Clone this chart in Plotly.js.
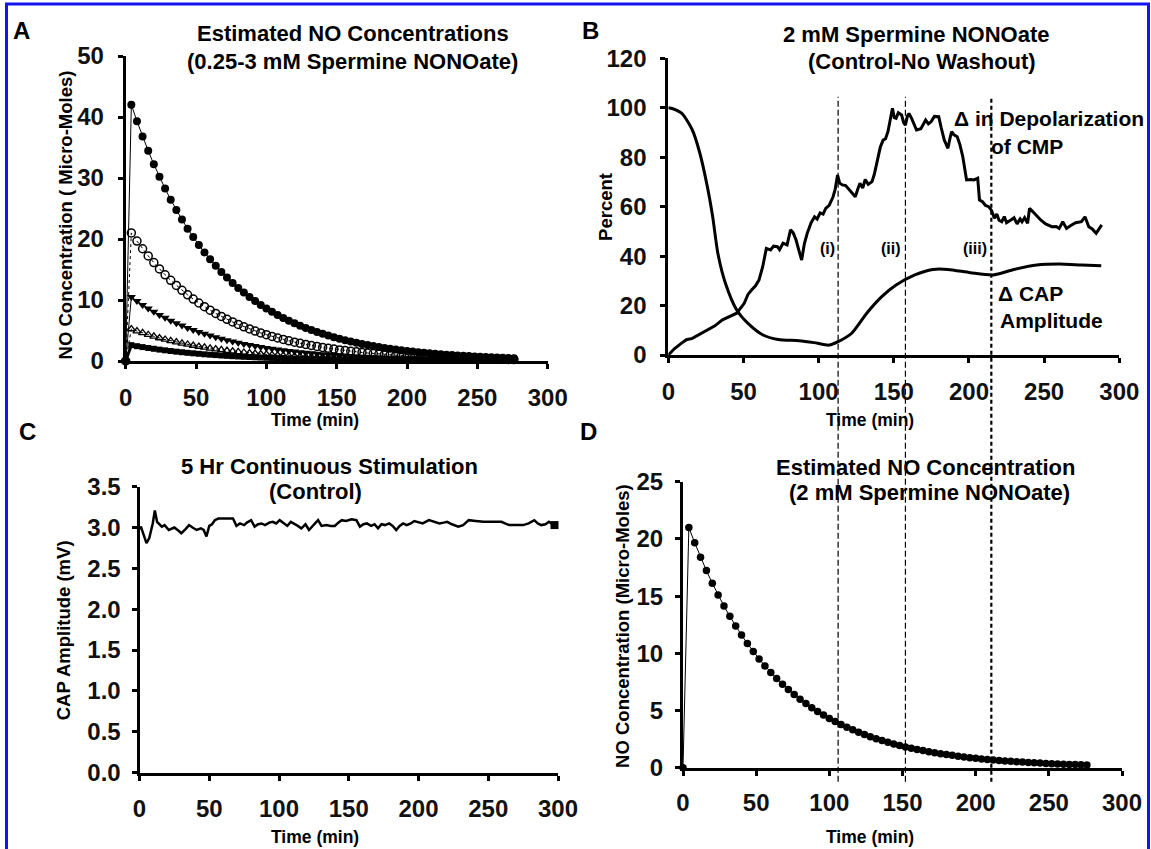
<!DOCTYPE html>
<html>
<head>
<meta charset="utf-8">
<script src="https://cdn.plot.ly/plotly-3.0.1.min.js"></script>
<style>html,body{margin:0;padding:0;background:#fff;}#chart{width:1151px;height:849px;}</style>
</head>
<body>
<div id="chart"></div>
<script>
// ---------- DATA ----------
// Panel A / D : estimated NO concentration (micro-moles) vs time (min)
const decayTime = [0,4,8,12,16,20,24,28,32,36,40,44,48,52,56,60,64,68,72,76,80,84,88,92,96,100,104,108,112,116,120,124,128,132,136,140,144,148,152,156,160,164,168,172,176,180,184,188,192,196,200,204,208,212,216,220,224,228,232,236,240,244,248,252,256,260,264,268,272,276];
const noHigh = [0,42.00,39.32,36.80,34.45,32.25,30.19,28.26,26.45,24.76,23.18,21.70,20.31,19.02,17.80,16.66,15.60,14.60,13.67,12.80,11.98,11.21,10.50,9.83,9.20,8.61,8.06,7.54,7.06,6.61,6.19,5.79,5.42,5.08,4.75,4.45,4.16,3.90,3.65,3.42,3.20,2.99,2.80,2.62,2.46,2.30,2.15,2.01,1.89,1.76,1.65,1.55,1.45,1.36,1.27,1.19,1.11,1.04,0.97,0.91,0.85,0.80,0.75,0.70,0.66,0.61,0.57,0.54,0.50,0.47];
const no2mM = [0,21.00,19.66,18.40,17.23,16.13,15.10,14.13,13.23,12.38,11.59,10.85,10.16,9.51,8.90,8.33,7.80,7.30,6.83,6.40,5.99,5.61,5.25,4.91,4.60,4.31,4.03,3.77,3.53,3.31,3.09,2.90,2.71,2.54,2.38,2.22,2.08,1.95,1.82,1.71,1.60,1.50,1.40,1.31,1.23,1.15,1.08,1.01,0.94,0.88,0.83,0.77,0.72,0.68,0.63,0.59,0.56,0.52,0.49,0.46,0.43,0.40,0.37,0.35,0.33,0.31,0.29,0.27,0.25,0.24];
const noMid = [0,10.50,9.83,9.20,8.61,8.06,7.55,7.07,6.61,6.19,5.80,5.43,5.08,4.75,4.45,4.17,3.90,3.65,3.42,3.20,2.99,2.80,2.62,2.46,2.30,2.15,2.01,1.89,1.77,1.65,1.55,1.45,1.36,1.27,1.19,1.11,1.04,0.97,0.91,0.85,0.80,0.75,0.70,0.66,0.61,0.57,0.54,0.50,0.47,0.44,0.41,0.39,0.36,0.34,0.32,0.30,0.28,0.26,0.24,0.23,0.21,0.20,0.19,0.18,0.16,0.15,0.14,0.13,0.13,0.12];
const noLow = [0,5.25,4.91,4.60,4.31,4.03,3.77,3.53,3.31,3.10,2.90,2.71,2.54,2.38,2.23,2.08,1.95,1.83,1.71,1.60,1.50,1.40,1.31,1.23,1.15,1.08,1.01,0.94,0.88,0.83,0.77,0.72,0.68,0.63,0.59,0.56,0.52,0.49,0.46,0.43,0.40,0.37,0.35,0.33,0.31,0.29,0.27,0.25,0.24,0.22,0.21,0.19,0.18,0.17,0.16,0.15,0.14,0.13,0.12,0.11,0.11,0.10,0.09,0.09,0.08,0.08,0.07,0.07,0.06,0.06];
const noLowest = [0,2.60,2.43,2.28,2.13,2.00,1.87,1.75,1.64,1.53,1.44,1.34,1.26,1.18,1.10,1.03,0.97,0.90,0.85,0.79,0.74,0.69,0.65,0.61,0.57,0.53,0.50,0.47,0.44,0.41,0.38,0.36,0.34,0.31,0.29,0.28,0.26,0.24,0.23,0.21,0.20,0.19,0.17,0.16,0.15,0.14,0.13,0.12,0.12,0.11,0.10,0.10,0.09,0.08,0.08,0.07,0.07,0.06,0.06,0.06,0.05,0.05,0.05,0.04,0.04,0.04,0.04,0.03,0.03,0.03];

// Panel B : percent change
const capTime = [0,3,9,16,21,26,29.5,33,38,45.5,53,63,73,87,97,107,113,122,132,142,151.5,164,176,186,201,216,230,245,260,275,288];
const capPct  = [100,99.6,97.7,91,81.6,68,56,41,29,18.2,12.8,8.1,6.3,5.8,5.0,4.0,5.4,8.8,16.9,23.6,28.3,32.4,34.6,34.6,33.3,32.4,34.6,36.4,36.8,36.4,36.1];
const depTime = [0,4,8.6,12,16,21,26,31,36,41,45.5,50.5,53,55.4,58,60.3,62.8,65.2,68,70,72.6,74,76.3,79,81.3,83,85,87,88.7,90.5,92.4,95,97.3,99,101,103,104.7,107,109.6,111,112.6,114,115.8,118,121,124.4,126,127.5,129.3,131,133,135.5,137,139.2,141,142.9,144.5,146.1,147.5,149.1,150.3,151.5,153,155.2,156.5,157.7,159,160.1,162,165.1,168,171.2,173,174.9,177,179.9,181.5,183.6,185,186,187.5,188.5,190,192.2,194,195.9,197,198.4,201,203.3,205.8,207,209,211,213.1,215,216.9,218.5,220,221.8,223.5,225,227.9,230,232,234,235.3,237,239,240.3,244,247.7,251,255.1,258,260,262.4,264.9,268,271,274.8,277.2,279.7,282,284.6,286.5,288.3];
const depPct  = [0,2.5,4.7,6.2,6.7,8.5,10.1,11.8,14.2,15.8,16.9,20.9,24.5,26.3,28,30.3,35.7,43.1,42.5,44,43.8,42.6,45.2,44.5,50.6,49.5,46.5,42,38.4,45,49.2,53.5,55.9,55,57.5,57,59.3,60.5,64.0,67,72.8,69.5,68.8,68.5,66.5,64.0,67,69.5,67.5,71,69,70.1,73,78.9,84,86.9,87.5,90.3,95,99.8,96,95.7,98,97.1,94,93.0,96.5,97.7,95.5,91.0,91.5,95.0,93.5,94.4,96.5,96.4,92,86.9,85,83.6,88,90.3,89,88.3,85,80.2,76,70.8,71,70.8,71.5,62.7,62,60.5,60.0,58.5,55.3,57,54.5,53.9,56,53.5,54.6,55.5,53,55,53.9,55.5,53.3,59.3,57,54.6,53,51.9,52,51.2,53.9,51.2,52.5,53.5,53.9,55.9,51.9,51,49.2,51,52.6];
const eventTimes = [106, 152, 210.7];   // (i), (ii), (iii) in minutes
const eventLabels = ['(i)', '(ii)', '(iii)'];

// Panel C : CAP amplitude (mV)
const cTime = [0,1,3,5,7,9.5,11,12.6,16,18,21,23,25,28,30,33,35.5,38,41,44,46,48,50,52,54,56.5,60,64,67,69.5,72,75,77,80,82.5,85,87.5,90,93,95.5,98,100.5,103,106,108.5,111,113.5,116,119,121.5,125,128,130.5,134,137,140,142.5,145,148,152,155.5,158,160.5,163,166,168.5,171,173.5,176,179,181.5,184,186.5,189,191.5,194.5,197,199.5,203,207.5,211,215,218,220.5,224,228.5,232,236,241,246.5,253,259.5,262,265,270,275,279,283,285.5,288,291,293.5,296,297.5];
const cAmp  = [2.98,3.01,2.91,2.81,2.87,3.05,3.21,3.07,3.01,3.03,2.97,2.99,3.00,2.96,2.93,2.98,3.03,3.00,2.97,2.99,2.97,2.89,3.02,3.04,3.09,3.11,3.11,3.11,3.11,3.02,3.05,3.03,3.06,3.09,3.01,3.04,3.05,3.03,3.06,3.07,3.05,3.09,3.06,3.02,3.07,3.05,3.02,2.99,3.04,2.97,3.03,3.09,3.02,3.03,3.02,3.02,3.06,3.09,3.08,3.10,3.09,3.01,3.04,3.05,3.02,3.04,2.99,3.04,3.03,3.05,3.02,2.97,3.02,3.05,3.03,3.05,3.08,3.07,3.05,3.09,3.07,3.05,3.06,3.07,3.04,3.01,3.03,3.09,3.08,3.07,3.07,3.07,3.05,3.03,3.03,3.03,3.05,3.09,3.05,3.03,3.04,3.07,3.04,3.03];

// ---------- LAYOUT HELPERS ----------
const W = 1151, H = 849;
const FAM = 'Liberation Sans, Arial, Helvetica, sans-serif';
const px = v => v / W;
const py = v => 1 - v / H;

function ann(text, x, y, size, extra) {
  return Object.assign({
    text: text, x: px(x), y: py(y), xref: 'paper', yref: 'paper',
    showarrow: false, xanchor: 'center', yanchor: 'middle',
    font: {family: FAM, size: size, color: '#000', weight: 'bold'}
  }, extra || {});
}

const TICKFONT = {family: FAM, size: 24, color: '#111', weight: 'bold'};
function axis(dom, range, dtick, extra) {
  return Object.assign({
    domain: dom, range: range, dtick: dtick, tick0: 0,
    showline: true, linecolor: '#000', linewidth: 3,
    ticks: 'outside', ticklen: 5, tickwidth: 3, tickcolor: '#000',
    showgrid: false, zeroline: false, fixedrange: true,
    tickfont: TICKFONT
  }, extra || {});
}

const BK = '#000';
const traces = [
  // Panel A
  {x: decayTime, y: noHigh, xaxis: 'x', yaxis: 'y', mode: 'lines+markers', cliponaxis: false,
   line: {color: BK, width: 1}, marker: {symbol: 'circle', size: 8, color: BK}},
  {x: decayTime, y: no2mM, xaxis: 'x', yaxis: 'y', mode: 'lines+markers', cliponaxis: false,
   line: {color: BK, width: 1, dash: 'dot'}, marker: {symbol: 'circle-open', size: 8, color: BK, line: {width: 1.5}}},
  {x: decayTime, y: noMid, xaxis: 'x', yaxis: 'y', mode: 'lines+markers', cliponaxis: false,
   line: {color: BK, width: 1}, marker: {symbol: 'triangle-down', size: 8, color: BK}},
  {x: decayTime, y: noLow, xaxis: 'x', yaxis: 'y', mode: 'lines+markers', cliponaxis: false,
   line: {color: BK, width: 1, dash: 'dot'}, marker: {symbol: 'triangle-up-open', size: 7, color: BK, line: {width: 1.3}}},
  {x: decayTime, y: noLowest, xaxis: 'x', yaxis: 'y', mode: 'lines+markers', cliponaxis: false,
   line: {color: BK, width: 3}, marker: {symbol: 'square', size: 6, color: BK}},
  // Panel B
  {x: capTime, y: capPct, xaxis: 'x2', yaxis: 'y2', mode: 'lines', cliponaxis: false,
   line: {color: BK, width: 3, shape: 'spline', smoothing: 0.7}},
  {x: depTime, y: depPct, xaxis: 'x2', yaxis: 'y2', mode: 'lines', cliponaxis: false,
   line: {color: BK, width: 3}},
  // Panel C
  {x: cTime, y: cAmp, xaxis: 'x3', yaxis: 'y3', mode: 'lines', cliponaxis: false,
   line: {color: BK, width: 2.5}},
  {x: [cTime[cTime.length - 1]], y: [cAmp[cAmp.length - 1]], xaxis: 'x3', yaxis: 'y3', mode: 'markers', cliponaxis: false,
   marker: {symbol: 'square', size: 8, color: BK}},
  // Panel D
  {x: decayTime, y: no2mM, xaxis: 'x4', yaxis: 'y4', mode: 'lines+markers', cliponaxis: false,
   line: {color: BK, width: 1}, marker: {symbol: 'circle', size: 7.5, color: BK}}
];

const xStd = 8, yStd = 9;
const layout = {
  width: W, height: H, showlegend: false,
  margin: {l: 0, r: 0, t: 0, b: 0},
  paper_bgcolor: '#fff', plot_bgcolor: 'rgba(0,0,0,0)',
  xaxis:  axis([px(125.7), px(547.7)], [0, 300], 50, {anchor: 'y', ticklabelstandoff: xStd}),
  yaxis:  axis([py(361), py(56)], [0, 50], 10, {anchor: 'x', ticklabelstandoff: yStd}),
  xaxis2: axis([px(668.3), px(1119.3)], [0, 300], 50, {anchor: 'y2', ticklabelstandoff: xStd}),
  yaxis2: axis([py(355), py(58.3)], [0, 120], 20, {anchor: 'x2', ticklabelstandoff: yStd}),
  xaxis3: axis([px(139.5), px(558)], [0, 300], 50, {anchor: 'y3', ticklabelstandoff: xStd}),
  yaxis3: axis([py(772.5), py(486.7)], [0, 3.5], 0.5, {anchor: 'x3', ticklabelstandoff: 6, tickformat: '.1f'}),
  xaxis4: axis([px(683), px(1122)], [0, 300], 50, {anchor: 'y4', ticklabelstandoff: 6}),
  yaxis4: axis([py(767.7), py(481.7)], [0, 25], 5, {anchor: 'x4', ticklabelstandoff: 7}),
  shapes: [
    // event markers spanning panels B and D
    {type: 'line', xref: 'x4', yref: 'paper', x0: eventTimes[0], x1: eventTimes[0], y0: py(781.7), y1: py(96.7),
     line: {color: BK, width: 1.2, dash: '6px,3px'}, layer: 'above'},
    {type: 'line', xref: 'x4', yref: 'paper', x0: eventTimes[1], x1: eventTimes[1], y0: py(781.7), y1: py(96.7),
     line: {color: BK, width: 1.2, dash: '6px,3px'}, layer: 'above'},
    {type: 'line', xref: 'x4', yref: 'paper', x0: eventTimes[2], x1: eventTimes[2], y0: py(781.7), y1: py(96.7),
     line: {color: BK, width: 2.2, dash: '4px,3px'}, layer: 'above'},
    // blue figure border
    {type: 'rect', xref: 'paper', yref: 'paper', x0: px(6.5), x1: px(1148.5), y0: py(860), y1: py(4),
     line: {color: '#1414f0', width: 3}, fillcolor: 'rgba(0,0,0,0)', layer: 'above'}
  ],
  annotations: [
    // panel letters
    ann('A', 21, 30, 24), ann('B', 590, 30, 24), ann('C', 27, 432, 24), ann('D', 588, 432, 24),
    // titles
    ann('Estimated NO Concentrations', 352.6, 33.3, 22),
    ann('(0.25-3 mM Spermine NONOate)', 352.6, 61.7, 22),
    ann('2 mM Spermine NONOate', 916.5, 35, 22),
    ann('(Control-No Washout)', 922, 61.7, 22),
    ann('5 Hr Continuous Stimulation', 330, 466.7, 22),
    ann('(Control)', 315.4, 491.7, 22),
    ann('Estimated NO Concentration', 925.7, 467, 22),
    ann('(2 mM Spermine NONOate)', 929.4, 492, 22),
    // axis titles
    ann('NO Concentration ( Micro-Moles)', 65.4, 215, 18.5, {textangle: -90}),
    ann('Time (min)', 315, 420, 17.5),
    ann('Percent', 605.2, 206.7, 18.5, {textangle: -90}),
    ann('Time (min)', 870, 420, 17.5),
    ann('CAP Amplitude (mV)', 63.6, 630.7, 18.5, {textangle: -90}),
    ann('Time (min)', 315, 836.5, 17.5),
    ann('NO Concentration (Micro-Moles)', 621.9, 626, 18.5, {textangle: -90}),
    ann('Time (min)', 870, 836.5, 17.5),
    // panel B labels
    ann('\u0394 in Depolarization', 951.6, 118.3, 21, {xanchor: 'left'}),
    ann('of CMP', 988.7, 146.7, 21, {xanchor: 'left'}),
    ann('\u0394 CAP', 996, 293.3, 21, {xanchor: 'left'}),
    ann('Amplitude', 998, 320, 21, {xanchor: 'left'}),
    ann(eventLabels[0], 827.5, 248.3, 16),
    ann(eventLabels[1], 890.5, 248.3, 16),
    ann(eventLabels[2], 975, 248.3, 16)
  ]
};

Plotly.newPlot('chart', traces, layout, {staticPlot: true, displayModeBar: false});
</script>
</body>
</html>
